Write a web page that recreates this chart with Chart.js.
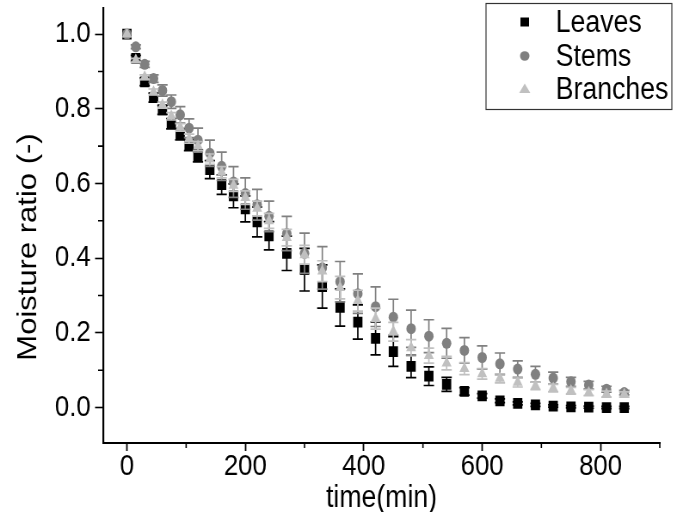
<!DOCTYPE html>
<html>
<head>
<meta charset="utf-8">
<script src="https://cdn.jsdelivr.net/npm/chart.js"></script>
<style>
  html, body { margin: 0; padding: 0; background: #fff; overflow: hidden; }
  canvas { display: block; }
</style>
</head>
<body>
<!-- drawn 794 wide and shown at 683: the source figure is squeezed horizontally -->
<canvas id="chart" width="794" height="512" style="width:683px;height:512px"></canvas>
<script>
// drying time (min)
const times = [0, 15, 30, 45, 60, 75, 90, 105, 120, 140, 160, 180, 200, 220, 240,
  270, 300, 330, 360, 390, 420, 450, 480, 510, 540, 570, 600, 630, 660, 690, 720, 750, 780, 810, 840];

const leaves = [1.0, 0.935, 0.872, 0.83, 0.797, 0.76, 0.732, 0.703, 0.674, 0.637, 0.597, 0.567, 0.532, 0.497, 0.46,
  0.413, 0.369, 0.324, 0.268, 0.229, 0.185, 0.15, 0.11, 0.084, 0.062, 0.043, 0.031, 0.018, 0.011, 0.007, 0.004, 0.002, 0.001, 0.0, 0.0];
const leavesErr = [0, 0.008, 0.01, 0.012, 0.012, 0.014, 0.015, 0.015, 0.016, 0.024, 0.026, 0.032, 0.035, 0.04, 0.038,
  0.046, 0.057, 0.058, 0.05, 0.046, 0.044, 0.04, 0.03, 0.025, 0.019, 0.01, 0.006, 0.005, 0.004, 0.004, 0.003, 0.003, 0.003, 0.003, 0.003];

const stems = [1.0, 0.966, 0.919, 0.881, 0.849, 0.819, 0.784, 0.748, 0.716, 0.681, 0.646, 0.604, 0.573, 0.543, 0.512,
  0.466, 0.413, 0.374, 0.337, 0.305, 0.27, 0.242, 0.211, 0.191, 0.172, 0.153, 0.134, 0.117, 0.103, 0.089, 0.079, 0.069, 0.06, 0.049, 0.04];
const stemsErr = [0, 0.005, 0.008, 0.01, 0.015, 0.018, 0.022, 0.025, 0.032, 0.035, 0.038, 0.041, 0.042, 0.041, 0.041,
  0.046, 0.054, 0.057, 0.054, 0.053, 0.053, 0.048, 0.05, 0.044, 0.04, 0.034, 0.031, 0.029, 0.022, 0.021, 0.016, 0.012, 0.01, 0.008, 0.006];

const branches = [1.0, 0.93, 0.885, 0.845, 0.81, 0.78, 0.75, 0.72, 0.70, 0.665, 0.63, 0.595, 0.562, 0.533, 0.50,
  0.455, 0.409, 0.365, 0.321, 0.286, 0.238, 0.203, 0.16, 0.139, 0.119, 0.104, 0.09, 0.078, 0.067, 0.058, 0.052, 0.045, 0.04, 0.036, 0.035];
const branchesErr = [0, 0.005, 0.006, 0.008, 0.008, 0.01, 0.01, 0.012, 0.012, 0.014, 0.015, 0.016, 0.018, 0.02, 0.02,
  0.022, 0.025, 0.028, 0.03, 0.028, 0.028, 0.025, 0.022, 0.02, 0.018, 0.016, 0.014, 0.012, 0.012, 0.01, 0.01, 0.009, 0.008, 0.008, 0.007];

const xTitle = 'time(min)';
const yTitle = 'Moisture ratio (-)';

const FONT = "'Liberation Sans', Arial, sans-serif";

function toPoints(ys) {
    return times.map((t, i) => ({ x: t, y: ys[i] }));
}

const series = [
    { label: 'Leaves', data: leaves, err: leavesErr, color: '#000000', style: 'rect', radius: 7.6, order: 3 },
    { label: 'Stems', data: stems, err: stemsErr, color: '#808080', style: 'circle', radius: 5.5, order: 2 },
    { label: 'Branches', data: branches, err: branchesErr, color: '#c0c0c0', style: 'triangle', radius: 6.7, order: 1 }
];

// error bars, drawn right after each dataset so later series sit on top
const errorBars = {
    id: 'errorBars',
    afterDatasetDraw(chart, args) {
        const s = series[args.index];
        const x = chart.scales.x, y = chart.scales.y;
        const ctx = chart.ctx;
        ctx.save();
        ctx.strokeStyle = s.color;
        ctx.lineWidth = 1.7;
        times.forEach((t, i) => {
            const e = s.err[i];
            if (!e) return;
            const px = x.getPixelForValue(t);
            const top = y.getPixelForValue(s.data[i] + e);
            const bot = y.getPixelForValue(s.data[i] - e);
            ctx.beginPath();
            ctx.moveTo(px, top); ctx.lineTo(px, bot);
            ctx.moveTo(px - 6, top); ctx.lineTo(px + 6, top);
            ctx.moveTo(px - 6, bot); ctx.lineTo(px + 6, bot);
            ctx.stroke();
        });
        ctx.restore();
    }
};

// minor ticks (shorter) at the unlabelled positions, plus both axis titles
const axisExtras = {
    id: 'axisExtras',
    afterDraw(chart) {
        const ctx = chart.ctx;
        const x = chart.scales.x, y = chart.scales.y;
        ctx.save();
        ctx.strokeStyle = '#000';
        ctx.lineWidth = 1.6;
        ctx.beginPath();
        x.ticks.forEach(t => {
            if (t.value % 200 !== 0) {
                const px = x.getPixelForValue(t.value);
                ctx.moveTo(px, x.top); ctx.lineTo(px, x.top + 5);
            }
        });
        y.ticks.forEach(t => {
            if (Math.round(t.value * 10) % 2 !== 0) {
                const py = y.getPixelForValue(t.value);
                ctx.moveTo(y.right, py); ctx.lineTo(y.right - 6, py);
            }
        });
        ctx.stroke();

        ctx.font = '31px ' + FONT;
        ctx.fillStyle = '#000';
        ctx.textAlign = 'center';
        ctx.textBaseline = 'middle';
        ctx.fillText(xTitle, (x.left + x.right) / 2, 498);

        ctx.translate(33, 247);
        ctx.rotate(-Math.PI / 2);
        ctx.fillText(yTitle, 0, 0);
        ctx.restore();
    }
};

// boxed legend in the top right corner
const boxLegend = {
    id: 'boxLegend',
    afterDraw(chart) {
        const ctx = chart.ctx;
        ctx.save();
        ctx.strokeStyle = '#333';
        ctx.lineWidth = 1.2;
        ctx.strokeRect(565, 3.5, 216, 106);
        ctx.font = '31px ' + FONT;
        ctx.textBaseline = 'middle';
        const rows = [22, 56, 89];
        series.forEach((s, i) => {
            const cy = rows[i], cx = 610;
            ctx.fillStyle = s.color;
            ctx.beginPath();
            if (s.style === 'rect') {
                ctx.rect(cx - 5, cy - 4.5, 10, 9);
            } else if (s.style === 'circle') {
                ctx.ellipse(cx, cy, 5.5, 4.8, 0, 0, Math.PI * 2);
            } else {
                ctx.moveTo(cx, cy - 5.5);
                ctx.lineTo(cx + 6.5, cy + 4);
                ctx.lineTo(cx - 6.5, cy + 4);
                ctx.closePath();
            }
            ctx.fill();
            ctx.fillStyle = '#000';
            ctx.fillText(s.label, 646, cy + 1);
        });
        ctx.restore();
    }
};

const ctx = document.getElementById('chart').getContext('2d');
const chart = new Chart(ctx, {
    type: 'scatter',
    data: {
        datasets: series.map(s => ({
            label: s.label,
            data: toPoints(s.data),
            pointStyle: s.style,
            pointRadius: s.radius,
            pointHoverRadius: s.radius,
            backgroundColor: s.color,
            borderColor: s.color,
            borderWidth: 0,
            order: s.order
        }))
    },
    options: {
        responsive: false,
        animation: false,
        devicePixelRatio: 1,
        layout: { padding: { left: 0, right: 27, top: 0, bottom: 0 } },
        plugins: {
            legend: { display: false },
            tooltip: { enabled: false }
        },
        scales: {
            x: {
                type: 'linear',
                min: -40,
                max: 900,
                border: { color: '#000', width: 2 },
                grid: {
                    drawOnChartArea: false,
                    tickLength: 8,
                    tickWidth: 1.8,
                    tickColor: c => (c.tick && c.tick.value % 200 === 0) ? '#000' : 'rgba(0,0,0,0)'
                },
                ticks: {
                    stepSize: 100,
                    includeBounds: false,
                    maxRotation: 0,
                    autoSkip: false,
                    padding: -2,
                    color: '#000',
                    font: { family: FONT, size: 30 },
                    callback: v => (v % 200 === 0 ? String(v) : '')
                },
                afterFit(scale) {
                    scale.height = 69;
                    scale.paddingLeft = 0;
                    scale.paddingRight = 0;
                }
            },
            y: {
                type: 'linear',
                min: -0.095,
                max: 1.071,
                border: { color: '#000', width: 2.2 },
                grid: {
                    drawOnChartArea: false,
                    tickLength: 9.5,
                    tickWidth: 1.6,
                    tickColor: c => (c.tick && Math.round(c.tick.value * 10) % 2 === 0) ? '#000' : 'rgba(0,0,0,0)'
                },
                ticks: {
                    stepSize: 0.1,
                    includeBounds: false,
                    autoSkip: false,
                    padding: 5,
                    color: '#000',
                    font: { family: FONT, size: 30 },
                    callback: v => (Math.round(v * 10) % 2 === 0 ? v.toFixed(1) : '')
                },
                afterFit(scale) {
                    scale.width = 120;
                    scale.paddingTop = 0;
                    scale.paddingBottom = 0;
                }
            }
        }
    },
    plugins: [errorBars, axisExtras, boxLegend]
});
</script>
</body>
</html>
